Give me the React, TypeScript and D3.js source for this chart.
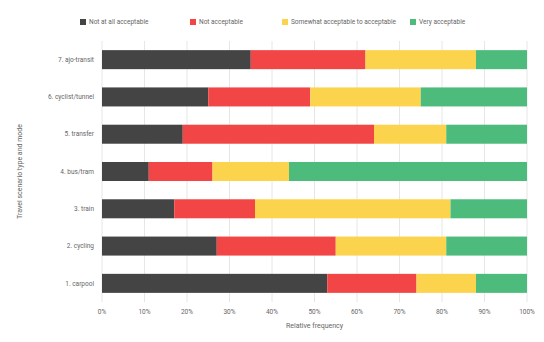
import React from "react";
import * as d3 from "d3";

const categories = ["7. ajo-transit", "6. cyclist/tunnel", "5. transfer", "4. bus/tram", "3. train", "2. cycling", "1. carpool"];
const seriesNames = ["Not at all acceptable", "Not acceptable", "Somewhat acceptable to acceptable", "Very acceptable"];
const notAtAll = [35, 25, 19, 11, 17, 27, 53];
const notAcc = [27, 24, 45, 15, 19, 28, 21];
const somewhat = [26, 26, 17, 18, 46, 26, 14];
const very = [12, 25, 19, 56, 18, 19, 12];
const colors = ["#444444", "#f24646", "#fcd34d", "#4cbb7b"];
const ticks = [0, 10, 20, 30, 40, 50, 60, 70, 80, 90, 100];

export default function App() {
  const W = 544, H = 342;
  const left = 102, right = 527, top = 41, bottom = 302;
  const x = d3.scaleLinear().domain([0, 100]).range([left, right]);
  const y = d3.scaleBand().domain(categories).range([top, bottom]).paddingInner(0.49).paddingOuter(0.245);
  const rows = categories.map((c, i) => ({ cat: c, v: [notAtAll[i], notAcc[i], somewhat[i], very[i]] }));
  const legendX = [80, 190, 282, 410];
  const font = "Roboto, 'Noto Sans', sans-serif";
  return (
    <svg width={W} height={H} style={{ position: "absolute", left: 0, top: 0 }} fontFamily={font}>
      <rect width={W} height={H} fill="#fff" />
      {ticks.map(t => (
        <line key={t} x1={x(t)} x2={x(t)} y1={top} y2={bottom} stroke="#e6e6e6" strokeWidth={1} />
      ))}
      {rows.map(r => {
        let acc = 0;
        return r.v.map((v, j) => {
          const x0 = x(acc);
          acc += v;
          const x1 = x(Math.min(acc, 100));
          return <rect key={r.cat + j} x={x0} y={y(r.cat)} width={x1 - x0} height={y.bandwidth()} fill={colors[j]} />;
        });
      })}
      {categories.map(c => (
        <text key={c} x={94} y={(y(c) as number) + y.bandwidth() / 2} dy="0.35em" textAnchor="end" fontSize={6.5} fill="#666">{c}</text>
      ))}
      {ticks.map(t => (
        <text key={"t" + t} x={x(t)} y={314} textAnchor="middle" fontSize={6.5} fill="#666">{t + "%"}</text>
      ))}
      <text x={(left + right) / 2} y={328} textAnchor="middle" fontSize={7} fill="#666">Relative frequency</text>
      <text transform={`translate(22,${(top + bottom) / 2}) rotate(-90)`} textAnchor="middle" fontSize={7} fill="#666">Travel scenario type and mode</text>
      {seriesNames.map((s, i) => (
        <g key={s} transform={`translate(${legendX[i]},22)`}>
          <rect x={0} y={-3} width={6} height={6} fill={colors[i]} />
          <text x={9} y={0} dy="0.35em" fontSize={6.5} fill="#666">{s}</text>
        </g>
      ))}
    </svg>
  );
}
